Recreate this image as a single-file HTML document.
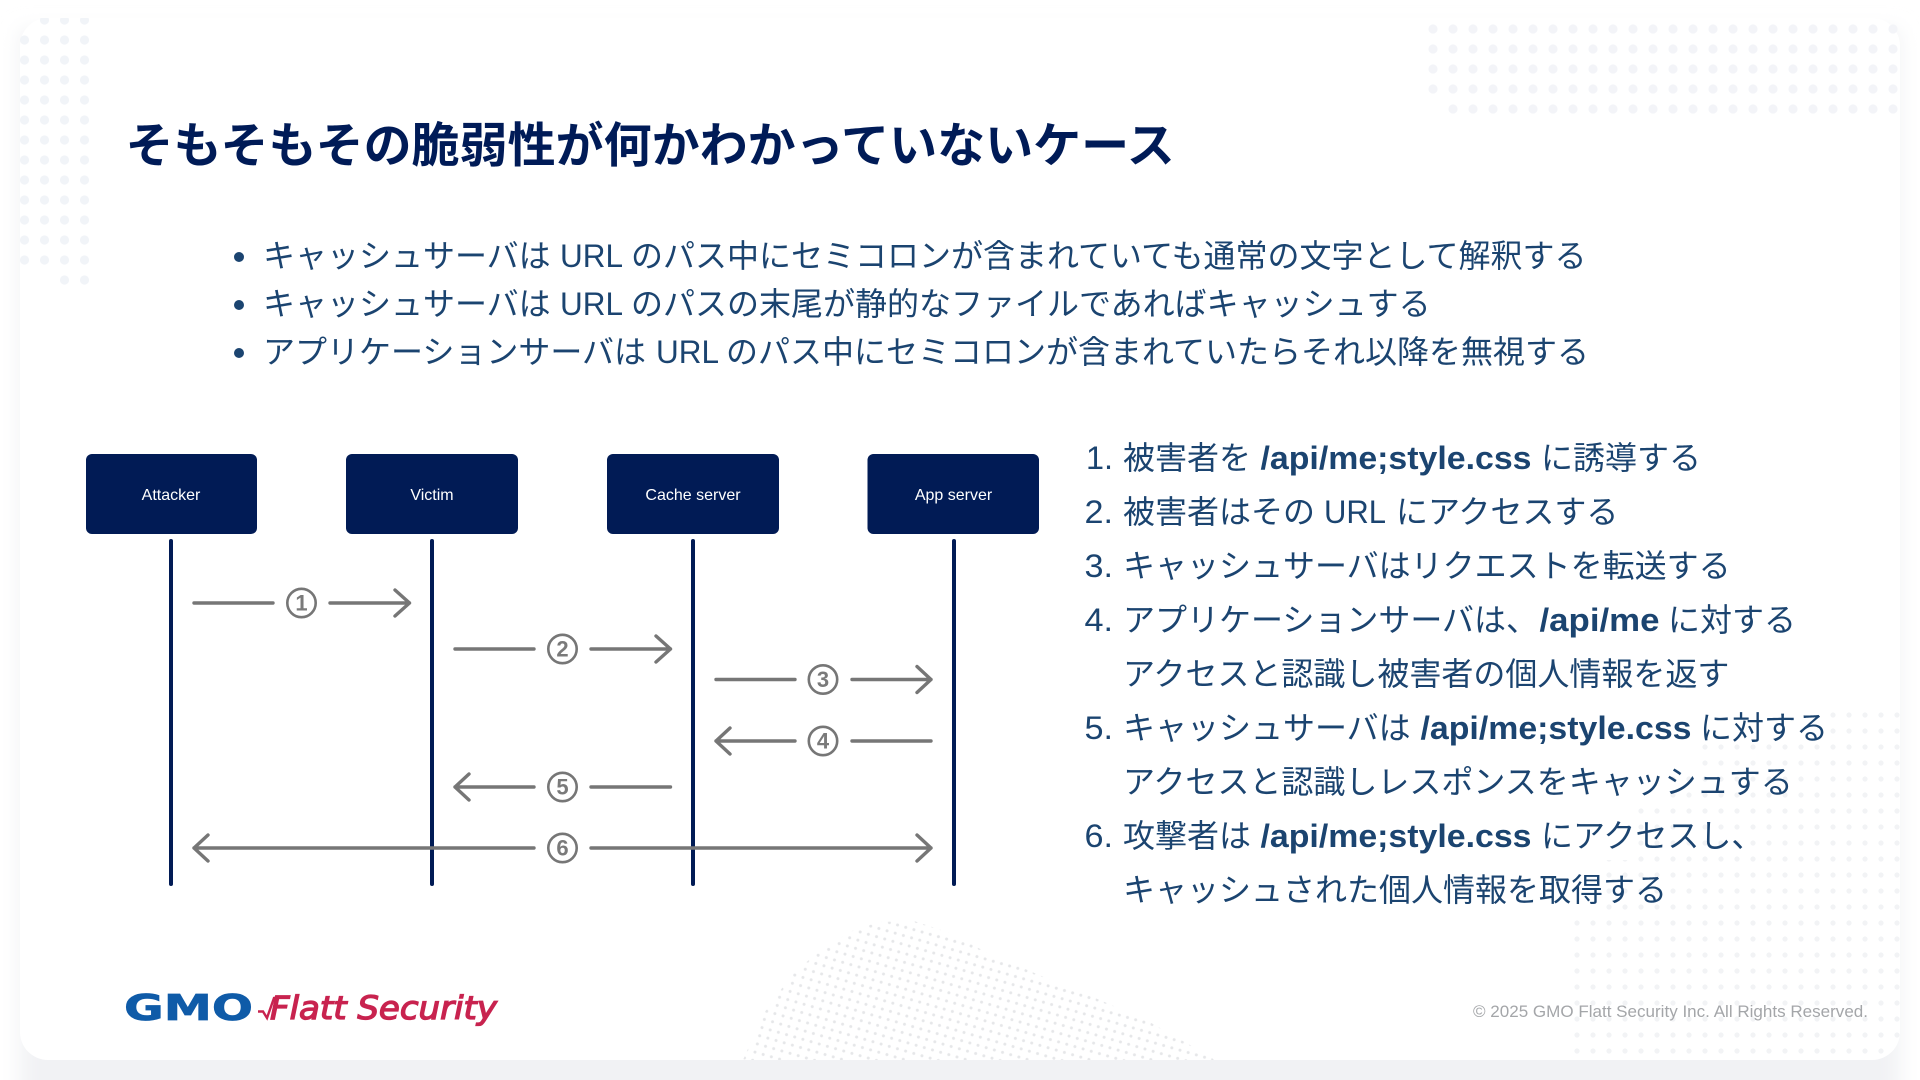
<!DOCTYPE html>
<html lang="ja">
<head>
<meta charset="utf-8">
<title>そもそもその脆弱性が何かわかっていないケース</title>
<style>
html,body{margin:0;padding:0;width:1920px;height:1080px;overflow:hidden;background:#fff}
svg{display:block}
text{font-family:"Liberation Sans","Noto Sans CJK JP",sans-serif}
.t{font-size:32px;fill:#1b4470}
.j{font-family:"Noto Sans CJK JP","Liberation Sans",sans-serif}
.b{font-weight:700}
.h{font-family:"Noto Sans CJK JP","Liberation Sans",sans-serif;font-size:48px;font-weight:700;fill:#001b57}
.l{font-size:16px;fill:#fff;text-anchor:middle}
.n{font-size:22px;font-weight:700;fill:#7a7a7a;text-anchor:middle}
.a{stroke:#767676;stroke-width:3.4;stroke-linecap:round;stroke-linejoin:round;fill:none}
.c{stroke:#767676;stroke-width:2.6;fill:#fff}
.v{stroke:#011b55;stroke-width:4;stroke-linecap:round}
</style>
</head>
<body>
<svg width="1920" height="1080" viewBox="0 0 1920 1080" xmlns="http://www.w3.org/2000/svg">
<defs>
<filter id="sh" x="-5%" y="-5%" width="110%" height="110%"><feGaussianBlur stdDeviation="10"/></filter>
<pattern id="pTR" x="1423" y="19" width="20" height="20" patternUnits="userSpaceOnUse"><circle cx="10" cy="10" r="4.6" fill="#f3f4f8"/></pattern>
<pattern id="pL" x="14.5" y="10" width="20" height="20" patternUnits="userSpaceOnUse"><circle cx="10" cy="10" r="4.6" fill="#f1f4f8"/></pattern>
<pattern id="pBR" x="1569" y="707" width="16" height="16" patternUnits="userSpaceOnUse"><circle cx="8" cy="8" r="2.6" fill="#f2f3f5"/></pattern>
<pattern id="pB" width="8.5" height="8.5" patternUnits="userSpaceOnUse" patternTransform="rotate(16)"><circle cx="4.25" cy="4.25" r="1.5" fill="#e6e7e9"/></pattern>
</defs>
<rect width="1920" height="1080" fill="#fff"/>
<rect x="20" y="30" width="1880" height="1090" fill="#f1f2f4" filter="url(#sh)"/>
<rect x="20" y="18" width="1880" height="1042" rx="28" fill="#fff"/>

<!-- dot textures -->
<path d="M1423 19H1900V99H1423ZM1443 99H1900V119H1443Z" fill="url(#pTR)"/>
<path d="M34.5 18H94V30H34.5ZM20 30H94V270H20ZM54.5 270H94V290H54.5Z" fill="url(#pL)"/>
<polygon points="1569,1060 1569,915 1600,915 1600,860 1632,860 1632,805 1664,805 1664,771 1696,771 1696,739 1824,739 1824,707 1900,707 1900,1040 1880,1060" fill="url(#pBR)"/>
<polygon points="743,1060 764,1013 793,973 825,947 854,930 879,922 914,921 950,933 986,952 1039,975 1093,997 1146,1020 1211,1057 1214,1060" fill="url(#pB)"/>

<!-- title -->
<text class="h" x="125.5" y="162">そもそもその脆弱性が何かわかっていないケース</text>

<!-- bullets -->
<circle cx="239" cy="257" r="5" fill="#1b4470"/>
<circle cx="239" cy="305" r="5" fill="#1b4470"/>
<circle cx="239" cy="353" r="5" fill="#1b4470"/>
<text class="t j" x="263" y="267">キャッシュサーバは</text>
<text class="t" x="560" y="267" textLength="63" lengthAdjust="spacingAndGlyphs">URL</text>
<text class="t j" x="631" y="267">のパス中にセミコロンが含まれていても通常の文字として解釈する</text>
<text class="t j" x="263" y="315">キャッシュサーバは</text>
<text class="t" x="560" y="315" textLength="63" lengthAdjust="spacingAndGlyphs">URL</text>
<text class="t j" x="631" y="315">のパスの末尾が静的なファイルであればキャッシュする</text>
<text class="t j" x="263" y="363">アプリケーションサーバは</text>
<text class="t" x="656" y="363" textLength="63" lengthAdjust="spacingAndGlyphs">URL</text>
<text class="t j" x="726" y="363">のパス中にセミコロンが含まれていたらそれ以降を無視する</text>

<!-- sequence diagram: actors -->
<rect x="86" y="454" width="171" height="80" rx="6" fill="#011b55"/>
<rect x="346" y="454" width="172" height="80" rx="6" fill="#011b55"/>
<rect x="607" y="454" width="172" height="80" rx="6" fill="#011b55"/>
<rect x="867.5" y="454" width="171.5" height="80" rx="6" fill="#011b55"/>
<text class="l" x="171" y="500">Attacker</text>
<text class="l" x="432" y="500">Victim</text>
<text class="l" x="693" y="500">Cache server</text>
<text class="l" x="953.5" y="500">App server</text>

<!-- lifelines -->
<line class="v" x1="171" y1="541" x2="171" y2="884"/>
<line class="v" x1="432" y1="541" x2="432" y2="884"/>
<line class="v" x1="693" y1="541" x2="693" y2="884"/>
<line class="v" x1="954" y1="541" x2="954" y2="884"/>

<!-- arrows -->
<path class="a" d="M194 603H273M330 603H409.5M395 590L409.5 603L395 616"/>
<circle class="c" cx="301.5" cy="603" r="14.2"/><text class="n" x="301.5" y="610.5">1</text>

<path class="a" d="M455 649H534M591 649H670.5M656 636L670.5 649L656 662"/>
<circle class="c" cx="562.5" cy="649" r="14.2"/><text class="n" x="562.5" y="656.5">2</text>

<path class="a" d="M716 679.5H795M852 679.5H931M917 666.5L931 679.5L917 692.5"/>
<circle class="c" cx="823" cy="679.5" r="14.2"/><text class="n" x="823" y="687">3</text>

<path class="a" d="M931 741H852M795 741H716M730 728L716 741L730 754"/>
<circle class="c" cx="823" cy="741" r="14.2"/><text class="n" x="823" y="748.5">4</text>

<path class="a" d="M670.5 787H591M534 787H455M469 774L455 787L469 800"/>
<circle class="c" cx="562.5" cy="787" r="14.2"/><text class="n" x="562.5" y="794.5">5</text>

<path class="a" d="M194 848H534M591 848H931M208 835L194 848L208 861M917 835L931 848L917 861"/>
<circle class="c" cx="562.5" cy="848" r="14.2"/><text class="n" x="562.5" y="855.5">6</text>

<!-- numbered list -->
<text class="t" x="1086" y="469" textLength="27" lengthAdjust="spacingAndGlyphs">1.</text>
<text class="t j" x="1123" y="469">被害者を</text>
<text class="t b" x="1260.5" y="469" textLength="271" lengthAdjust="spacingAndGlyphs">/api/me;style.css</text>
<text class="t j" x="1541" y="469">に誘導する</text>

<text class="t" x="1084.5" y="523" textLength="28.5" lengthAdjust="spacingAndGlyphs">2.</text>
<text class="t j" x="1123" y="523">被害者はその</text>
<text class="t" x="1324" y="523" textLength="62" lengthAdjust="spacingAndGlyphs">URL</text>
<text class="t j" x="1396" y="523">にアクセスする</text>

<text class="t" x="1084.5" y="577" textLength="28.5" lengthAdjust="spacingAndGlyphs">3.</text>
<text class="t j" x="1123" y="577">キャッシュサーバはリクエストを転送する</text>

<text class="t" x="1084.5" y="631" textLength="28.5" lengthAdjust="spacingAndGlyphs">4.</text>
<text class="t j" x="1123" y="631">アプリケーションサーバは、</text>
<text class="t b" x="1539.5" y="631" textLength="120" lengthAdjust="spacingAndGlyphs">/api/me</text>
<text class="t j" x="1668" y="631">に対する</text>

<text class="t j" x="1123" y="685">アクセスと認識し被害者の個人情報を返す</text>

<text class="t" x="1084.5" y="739" textLength="28.5" lengthAdjust="spacingAndGlyphs">5.</text>
<text class="t j" x="1123" y="739">キャッシュサーバは</text>
<text class="t b" x="1420.5" y="739" textLength="271" lengthAdjust="spacingAndGlyphs">/api/me;style.css</text>
<text class="t j" x="1700" y="739">に対する</text>

<text class="t j" x="1123" y="793">アクセスと認識しレスポンスをキャッシュする</text>

<text class="t" x="1084.5" y="847" textLength="28.5" lengthAdjust="spacingAndGlyphs">6.</text>
<text class="t j" x="1123" y="847">攻撃者は</text>
<text class="t b" x="1260.5" y="847" textLength="271" lengthAdjust="spacingAndGlyphs">/api/me;style.css</text>
<text class="t j" x="1541" y="847">にアクセスし、</text>

<text class="t j" x="1123" y="901">キャッシュされた個人情報を取得する</text>

<!-- logo -->
<text x="124" y="1020" font-size="36" font-weight="700" fill="#0f5ba8" stroke="#0f5ba8" stroke-width="0.7" textLength="129" lengthAdjust="spacingAndGlyphs" style="font-family:'DejaVu Sans',sans-serif">GMO</text>
<path d="M258 1011.5L263 1011.5L267 1018L274 998L282 997" fill="none" stroke="#c8234f" stroke-width="2.4"/>
<text x="270" y="1019" font-size="32" font-style="italic" fill="#c8234f" stroke="#c8234f" stroke-width="1.3" textLength="227" lengthAdjust="spacingAndGlyphs" style="font-family:'DejaVu Sans',sans-serif">Flatt Security</text>

<!-- footer -->
<text x="1473" y="1017" font-size="16.5" fill="#a4a6a9" textLength="395" lengthAdjust="spacingAndGlyphs">© 2025 GMO Flatt Security Inc. All Rights Reserved.</text>
</svg>
</body>
</html>
